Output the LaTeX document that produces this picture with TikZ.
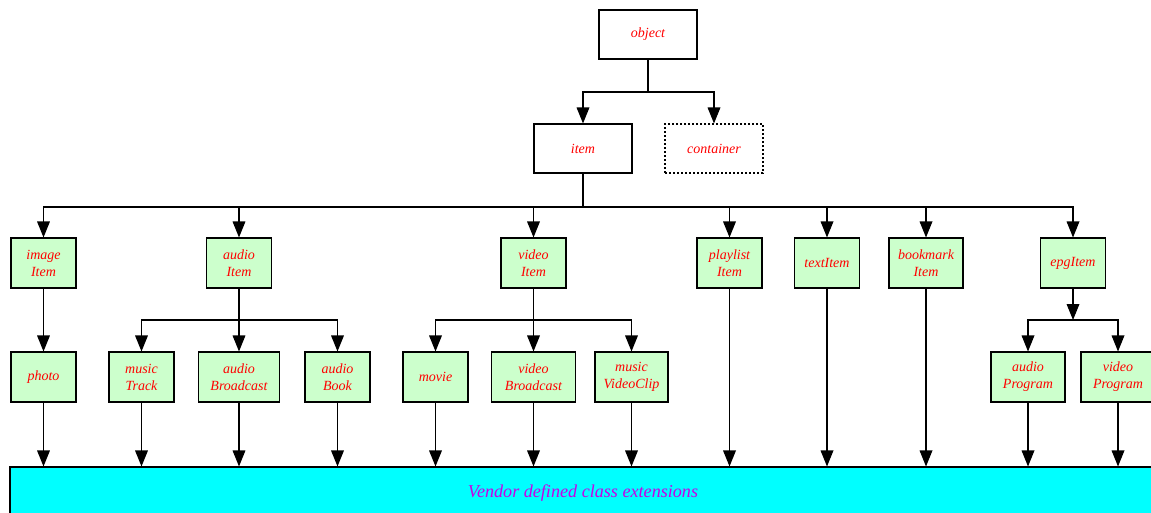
\documentclass[tikz,border=0pt]{standalone}
\usepackage{fontspec}
\setmainfont{Liberation Serif}
\usetikzlibrary{arrows.meta}

\definecolor{clsgreen}{RGB}{204,255,204}
\definecolor{vendorcyan}{RGB}{0,255,255}
\definecolor{vendortext}{RGB}{200,0,230}

\tikzset{
  base/.style={draw, line width=0.8pt, inner sep=0pt, align=center,
    text=red, font=\fontsize{10.5}{12.75}\selectfont\itshape},
  top/.style={base, fill=white, minimum width=73.5pt, minimum height=36.75pt},
  cls/.style={base, fill=clsgreen, minimum width=48.75pt, minimum height=37.5pt},
  arr/.style={line width=0.9pt, -{Triangle[length=12pt,width=9.5pt]}},
  link/.style={line width=0.9pt}
}

\begin{document}
\begin{tikzpicture}[x=0.75pt,y=-0.75pt]
      \clip (0,0) rectangle (1151,512);
      % top of the tree
      \node[top] (object) at (648,34.5) {object};
      \node[top] (item) at (583,148.5) {item};
      \node[top, dash pattern=on 1.5pt off 1.5pt] (container) at (714,148.5) {container};
      % item classes
      \node[cls] (imageItem) at (43.5,263) {image\\Item};
      \node[cls] (audioItem) at (239,263) {audio\\Item};
      \node[cls] (videoItem) at (533.5,263) {video\\Item};
      \node[cls] (playlistItem) at (729.5,263) {playlist\\Item};
      \node[cls] (textItem) at (827,263) {textItem};
      \node[cls, minimum width=55.5pt] (bookmarkItem) at (926,263) {bookmark\\Item};
      \node[cls] (epgItem) at (1073,263) {epgItem};
      % leaf classes
      \node[cls] (photo) at (43.5,377) {photo};
      \node[cls] (musicTrack) at (141.5,377) {music\\Track};
      \node[cls, minimum width=60.75pt] (audioBroadcast) at (239,377) {audio\\Broadcast};
      \node[cls] (audioBook) at (337.5,377) {audio\\Book};
      \node[cls] (movie) at (435.5,377) {movie};
      \node[cls, minimum width=63pt] (videoBroadcast) at (533.5,377) {video\\Broadcast};
      \node[cls, minimum width=54.75pt] (musicVideoClip) at (631.5,377) {music\\VideoClip};
      \node[cls, minimum width=55.5pt] (audioProgram) at (1028,377) {audio\\Program};
      \node[cls, minimum width=55.5pt] (videoProgram) at (1118,377) {video\\Program};
      \node[draw, line width=0.8pt, fill=vendorcyan, minimum width=859.5pt,
            minimum height=39pt, text=vendortext,
            font=\fontsize{13.6}{16}\selectfont\itshape] (vendor) at (583,493) {Vendor defined class extensions};
      % branch points
      \coordinate (j0) at (648,92);
      \coordinate (j1) at (583,207);
      \coordinate (j2) at (239,320);
      \coordinate (j3) at (533.5,320);
      \coordinate (j4) at (1073,320);
      \draw[link] (object) -- (j0);
      \draw[arr] (j0) -| (item);
      \draw[arr] (j0) -| (container);
      \draw[link] (item) -- (j1);
      \foreach \n in {imageItem,audioItem,videoItem,playlistItem,textItem,bookmarkItem,epgItem}
        \draw[arr] (j1) -| (\n);
      \draw[arr] (imageItem) -- (photo);
      \draw[link] (audioItem) -- (j2);
      \foreach \n in {musicTrack,audioBroadcast,audioBook}
        \draw[arr] (j2) -| (\n);
      \draw[link] (videoItem) -- (j3);
      \foreach \n in {movie,videoBroadcast,musicVideoClip}
        \draw[arr] (j3) -| (\n);
      \draw[arr] (epgItem) -- (j4);
      \draw[arr] (j4) -| (audioProgram);
      \draw[arr] (j4) -| (videoProgram);
      \foreach \n in {photo,musicTrack,audioBroadcast,audioBook,movie,videoBroadcast,musicVideoClip,
                      playlistItem,textItem,bookmarkItem,audioProgram,videoProgram}
        \draw[arr] (\n) -- (\n |- vendor.north);
  \end{tikzpicture}
\end{document}
